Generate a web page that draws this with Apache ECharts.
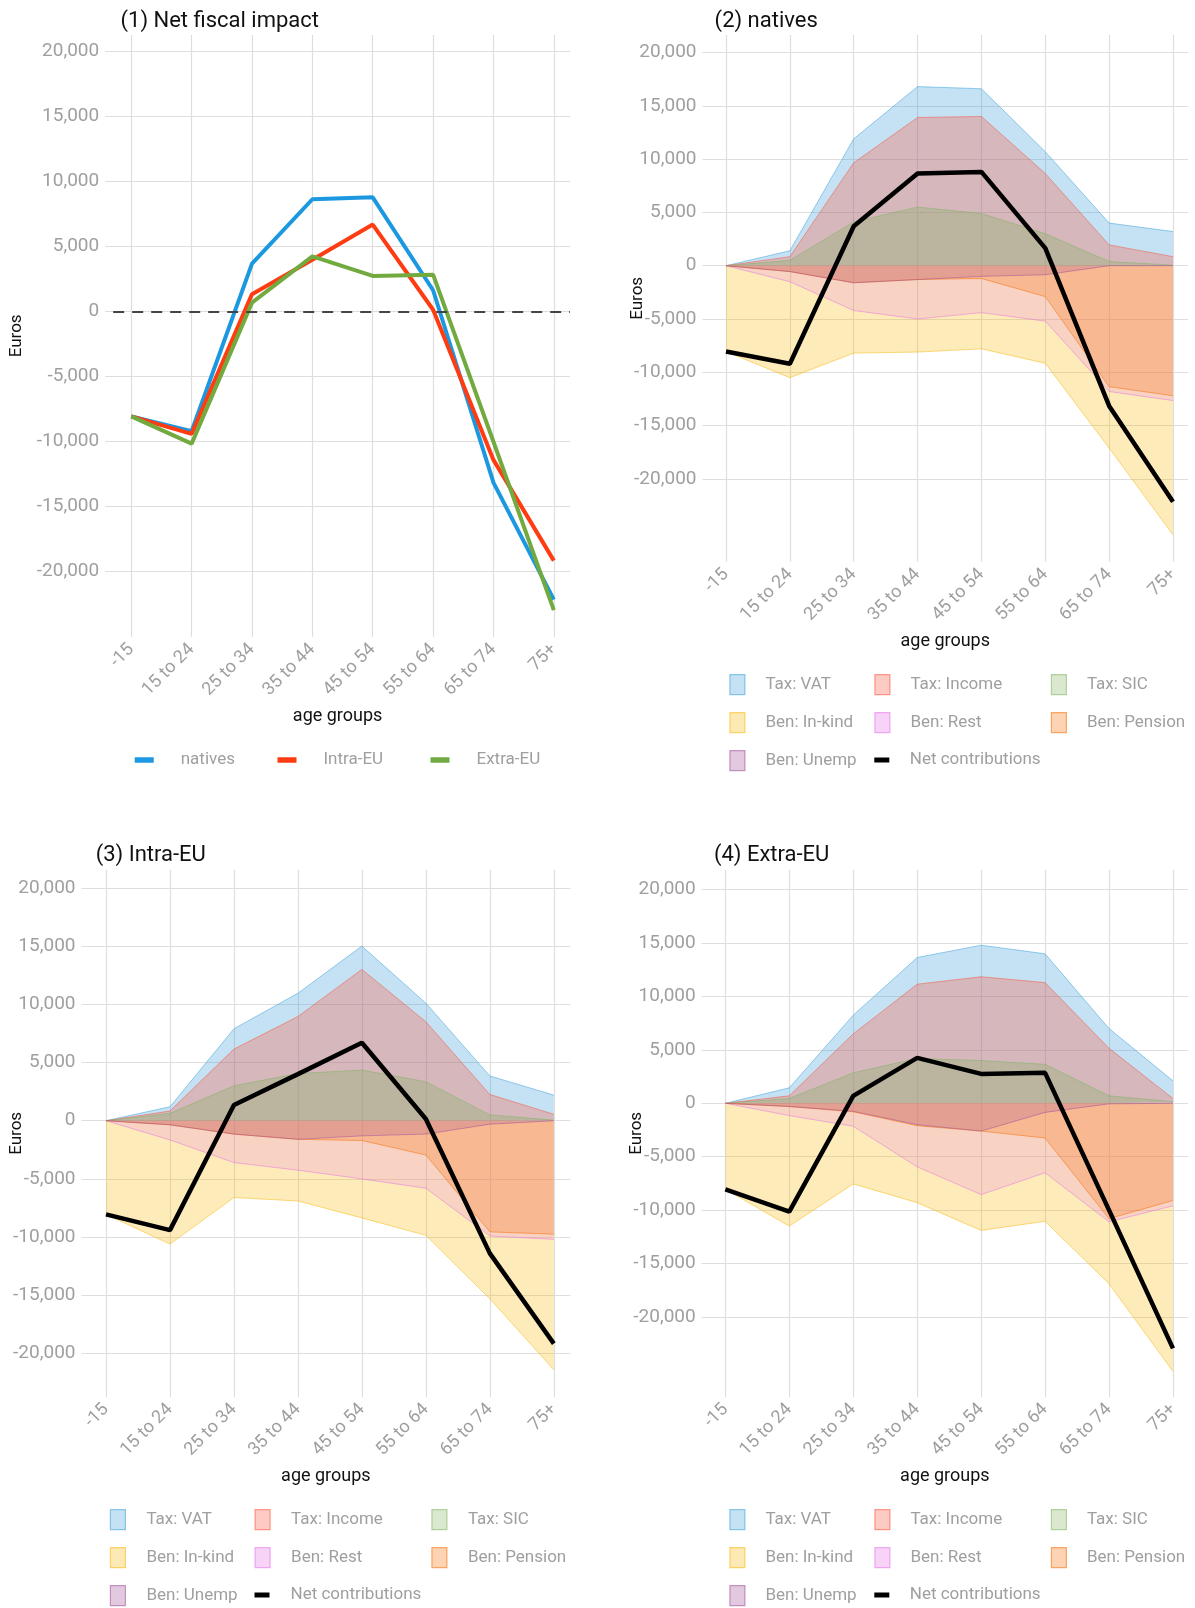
<!DOCTYPE html>
<html>
<head>
<meta charset="utf-8">
<title>Net fiscal impact by age group</title>
<script src="https://cdn.jsdelivr.net/npm/echarts@6/dist/echarts.min.js"></script>
<style>
  html, body { margin: 0; padding: 0; background: #fff; }
  #chart { width: 1195px; height: 1608px; }
</style>
</head>
<body>
<div id="chart"></div>
<script>
// ---- data ------------------------------------------------------------
var ageGroups = ['-15', '15 to 24', '25 to 34', '35 to 44', '45 to 54', '55 to 64', '65 to 74', '75+'];
var yTicks = [-20000, -15000, -10000, -5000, 0, 5000, 10000, 15000, 20000];

// net contributions (panel 1 lines and black line of panels 2-4)
var natNet = [-8050, -9200, 3700, 8650, 8800, 1650, -13150, -22150];
var intNet = [-8050, -9400, 1350, 4000, 6700, 150, -11400, -19150];
var extNet = [-8050, -10150, 700, 4250, 2750, 2850, -10000, -22950];

// layer levels as plotted (cumulative, each area drawn from 0)
// natives
var natVat     = [0, 1400, 11900, 16800, 16600, 10700, 4000, 3200];
var natIncome  = [0, 850, 9650, 13900, 14000, 8650, 1950, 850];
var natSic     = [0, 500, 4100, 5500, 4900, 3000, 400, 50];
var natInkind  = [-8050, -10500, -8200, -8100, -7800, -9150, -17100, -25250];
var natRest    = [0, -1500, -4200, -5000, -4400, -5200, -11800, -12650];
var natPension = [0, -550, -1600, -1300, -1200, -2900, -11350, -12200];
var natUnemp   = [0, -550, -1600, -1300, -1000, -850, 0, 0];
// Intra-EU
var intVat     = [0, 1200, 7900, 10950, 15000, 10100, 3850, 2200];
var intIncome  = [0, 830, 6150, 8950, 13000, 8500, 2250, 550];
var intSic     = [0, 630, 3000, 4050, 4350, 3350, 500, 50];
var intInkind  = [-8050, -10600, -6600, -6900, -8350, -9850, -15300, -21400];
var intRest    = [0, -1650, -3600, -4250, -5000, -5800, -9900, -10200];
var intPension = [0, -350, -1150, -1600, -1700, -2950, -9550, -9750];
var intUnemp   = [0, -350, -1150, -1600, -1300, -1150, -300, 0];
// Extra-EU
var extVat     = [0, 1450, 8250, 13650, 14800, 14000, 7000, 2100];
var extIncome  = [0, 700, 6500, 11150, 11850, 11300, 5150, 450];
var extSic     = [0, 450, 2850, 4200, 4000, 3650, 700, 150];
var extInkind  = [-8050, -11500, -7550, -9300, -11900, -11050, -16900, -25100];
var extRest    = [0, -1150, -2150, -5950, -8550, -6500, -11100, -9600];
var extPension = [0, -300, -800, -2100, -2600, -3250, -10800, -9100];
var extUnemp   = [0, -300, -750, -2000, -2600, -850, -50, 0];

// ---- style -----------------------------------------------------------
var font = 'Roboto, "Noto Sans", sans-serif';
var greyText = '#9f9f9f';
var gridColor = '#dedede';
var lineColors = { 'natives': '#1b98e0', 'Intra-EU': '#ff3b12', 'Extra-EU': '#72aa3f' };
var layerColors = {
    'Tax: VAT': '#3a9eda',
    'Tax: Income': '#fc523a',
    'Tax: SIC': '#80b25f',
    'Ben: In-kind': '#f8b608',
    'Ben: Rest': '#e570e5',
    'Ben: Pension': '#f86c02',
    'Ben: Unemp': '#9e4b98'
};
// fill opacity of each layer
var layerAlpha = {
    'Tax: VAT': 0.3, 'Tax: Income': 0.3, 'Tax: SIC': 0.3,
    'Ben: In-kind': 0.28, 'Ben: Rest': 0.2, 'Ben: Pension': 0.25, 'Ben: Unemp': 0.22
};

function rgba(hex, a) {
    var n = parseInt(hex.slice(1), 16);
    return 'rgba(' + (n >> 16 & 255) + ',' + (n >> 8 & 255) + ',' + (n & 255) + ',' + a + ')';
}
function pairs(vals) {
    return vals.map(function (v, i) { return [i, v]; });
}

// panel boxes
var panels = [
    { title: '(1) Net fiscal impact', tx: 120.5, ty: 21, left: 105.2, top: 35, width: 464.8, height: 601.7,
      xMin: -0.432, xMax: 7.268, yMin: -25000, yMax: 21285, yNameGap: 80 },
    { title: '(2) natives', tx: 714.6, ty: 21, left: 702.5, top: 35, width: 485.5, height: 526.7,
      xMin: -0.368, xMax: 7.235, yMin: -27767, yMax: 21642, yNameGap: 56 },
    { title: '(3) Intra-EU', tx: 95.7, ty: 855, left: 81.5, top: 870, width: 488.7, height: 526.7,
      xMin: -0.383, xMax: 7.256, yMin: -23711, yMax: 21538, yNameGap: 56 },
    { title: '(4) Extra-EU', tx: 713.9, ty: 855, left: 701.7, top: 870, width: 486.3, height: 526.7,
      xMin: -0.37, xMax: 7.235, yMin: -27472, yMax: 21845, yNameGap: 56 }
];

var xTicks = ageGroups.map(function (g, i) { return i; });

var titles = [], grids = [], xAxes = [], yAxes = [], series = [], legends = [];

panels.forEach(function (p, k) {
    titles.push({
        text: p.title, left: p.tx, top: p.ty - 12, padding: 0,
        textStyle: { fontFamily: font, fontSize: 22, fontWeight: 'normal', color: '#111', lineHeight: 24 }
    });
    grids.push({ left: p.left, top: p.top, width: p.width, height: p.height, outerBoundsMode: 'none' });
    xAxes.push({
        type: 'value', gridIndex: k, min: p.xMin, max: p.xMax,
        name: 'age groups', nameLocation: 'middle', nameGap: 71, nameMoveOverlap: false,
        nameTextStyle: { fontFamily: font, fontSize: 18, color: '#111' },
        axisLine: { show: false },
        axisTick: { show: false, customValues: xTicks },
        axisLabel: {
            customValues: xTicks, rotate: 45, margin: 10,
            fontFamily: font, fontSize: 18, color: greyText,
            formatter: function (v) { return ageGroups[Math.round(v)]; }
        },
        splitLine: { show: true, lineStyle: { color: gridColor, width: 1.2 } }
    });
    yAxes.push({
        type: 'value', gridIndex: k, min: p.yMin, max: p.yMax,
        name: 'Euros', nameLocation: 'middle', nameGap: p.yNameGap, nameRotate: 90, nameMoveOverlap: false,
        nameTextStyle: { fontFamily: font, fontSize: 17, color: '#111' },
        axisLine: { show: false },
        axisTick: { show: false, customValues: yTicks },
        axisLabel: {
            customValues: yTicks, margin: 6,
            fontFamily: font, fontSize: 19, color: greyText,
            formatter: function (v) { return v.toLocaleString('en-US'); }
        },
        splitLine: { show: true, lineStyle: { color: gridColor, width: 1.2 } }
    });
});

// panel 1: net fiscal impact lines
var groupLines = [['natives', natNet], ['Intra-EU', intNet], ['Extra-EU', extNet]];
groupLines.forEach(function (g, i) {
    var s = {
        name: g[0], type: 'line', xAxisIndex: 0, yAxisIndex: 0,
        data: pairs(g[1]), symbol: 'none', z: 3,
        lineStyle: { color: lineColors[g[0]], width: 4 },
        itemStyle: { color: lineColors[g[0]] }
    };
    if (i === 0) {
        s.markLine = {
            silent: true, symbol: ['none', 'none'], label: { show: false },
            lineStyle: { color: '#444', width: 1.8, type: [11, 8], dashOffset: 11 },
            data: [{ yAxis: 0 }]
        };
    }
    series.push(s);
});

// panels 2-4: layered areas + net contributions
var layerSets = [
    [natVat, natIncome, natSic, natInkind, natRest, natPension, natUnemp, natNet],
    [intVat, intIncome, intSic, intInkind, intRest, intPension, intUnemp, intNet],
    [extVat, extIncome, extSic, extInkind, extRest, extPension, extUnemp, extNet]
];
var layerOrder = ['Tax: VAT', 'Tax: Income', 'Tax: SIC', 'Ben: In-kind', 'Ben: Rest', 'Ben: Pension', 'Ben: Unemp'];

layerSets.forEach(function (set, j) {
    var k = j + 1;
    layerOrder.forEach(function (name, li) {
        var c = layerColors[name];
        series.push({
            name: name, type: 'line', xAxisIndex: k, yAxisIndex: k,
            data: pairs(set[li]), symbol: 'none', z: 2,
            lineStyle: { color: rgba(c, 0.5), width: 1 },
            itemStyle: { color: c },
            areaStyle: { color: c, opacity: layerAlpha[name] }
        });
    });
    series.push({
        name: 'Net contributions', type: 'line', xAxisIndex: k, yAxisIndex: k,
        data: pairs(set[7]), symbol: 'none', z: 4,
        lineStyle: { color: '#000', width: 4.5 },
        itemStyle: { color: '#000' }
    });
});

// ---- legends ---------------------------------------------------------
function legendCell(name, left, cy, w, h, style, pad) {
    return {
        left: left, top: cy - 10, padding: 0, selectedMode: false,
        itemWidth: w, itemHeight: h,
        textStyle: { fontFamily: font, fontSize: 17, color: greyText, lineHeight: 20, padding: [0, 0, 0, pad] },
        data: [{ name: name, icon: 'rect', itemStyle: style }]
    };
}
function areaKey(name) {
    var c = layerColors[name];
    return { color: rgba(c, 0.3), borderColor: rgba(c, 0.55), borderWidth: 1.2 };
}

// panel 1 legend
[['natives', 134.7], ['Intra-EU', 277.5], ['Extra-EU', 430.5]].forEach(function (it) {
    legends.push(legendCell(it[0], it[1], 760, 19, 5.5, { color: lineColors[it[0]], borderWidth: 0 }, 22));
});

var cellNames = [
    ['Tax: VAT', 'Tax: Income', 'Tax: SIC'],
    ['Ben: In-kind', 'Ben: Rest', 'Ben: Pension'],
    ['Ben: Unemp', 'Net contributions', null]
];
var legendBoxes = [
    { rows: [684, 722, 760], cols: [729.3, 874.3, 1050.8], pad: 15.5 },
    { rows: [1519, 1557, 1595], cols: [109.8, 254.5, 431.3], pad: 16 },
    { rows: [1519, 1557, 1595], cols: [729.3, 874.3, 1050.8], pad: 15.5 }
];
legendBoxes.forEach(function (b) {
    cellNames.forEach(function (row, r) {
        row.forEach(function (name, c) {
            if (!name) return;
            if (name === 'Net contributions') {
                legends.push(legendCell(name, b.cols[c], b.rows[r], 15, 5, { color: '#000', borderWidth: 0 }, b.pad));
            } else {
                legends.push(legendCell(name, b.cols[c], b.rows[r], 15, 20, areaKey(name), b.pad));
            }
        });
    });
});

var chart = echarts.init(document.getElementById('chart'));
chart.setOption({
    animation: false,
    backgroundColor: '#fff',
    title: titles,
    grid: grids,
    xAxis: xAxes,
    yAxis: yAxes,
    legend: legends,
    series: series
});
</script>
</body>
</html>
